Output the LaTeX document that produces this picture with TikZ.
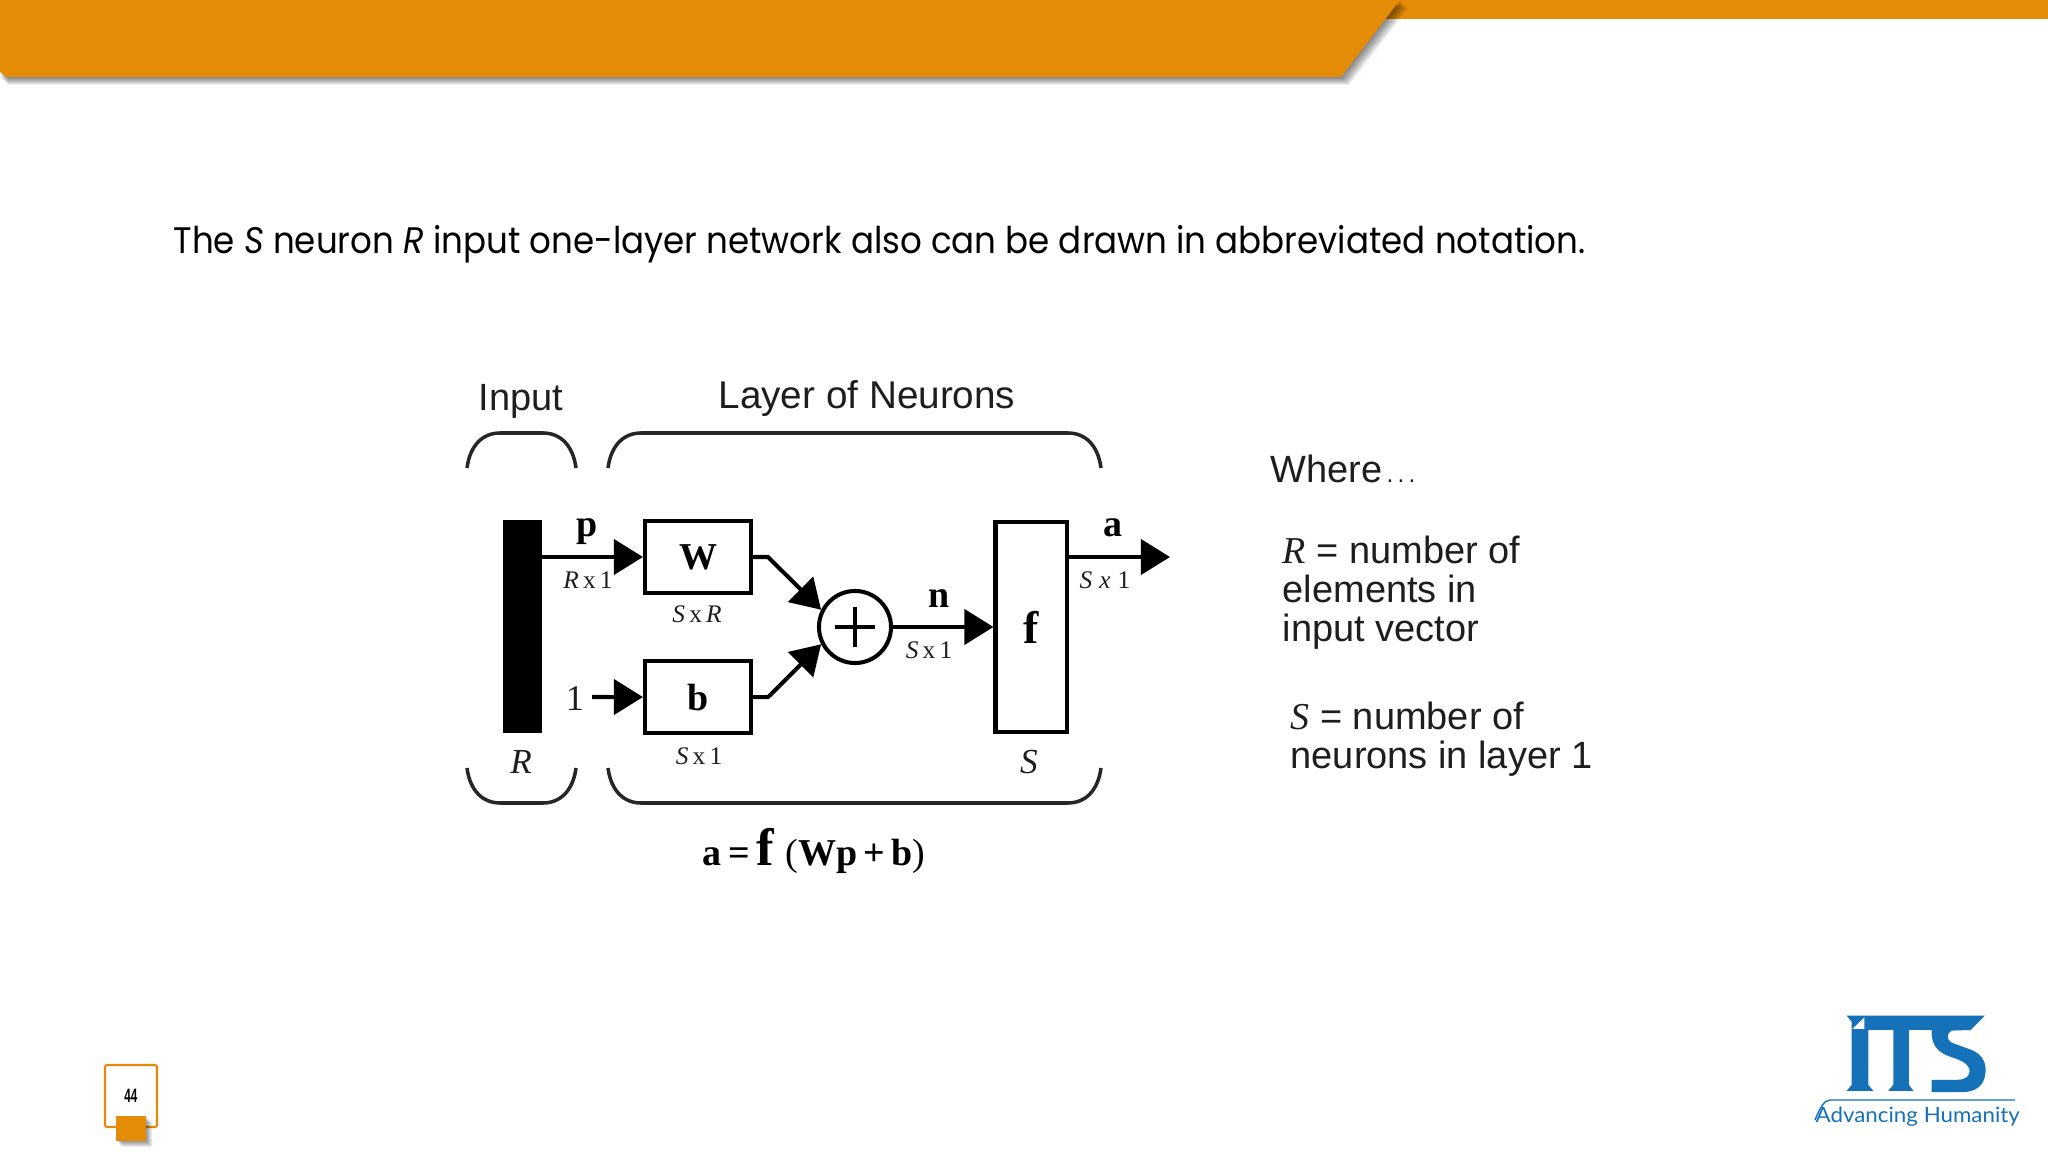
\documentclass[tikz,border=0pt]{standalone}
\usepackage{graphicx}
\usepackage{fontspec}
\setmainfont{Liberation Sans}
\newfontfamily\titlefont{Poppins}
\newfontfamily\serifface{Liberation Serif}
\newfontfamily\logofont{Lato}
\usepackage{tikz}
\usetikzlibrary{arrows.meta, calc, positioning}
\definecolor{itsorange}{RGB}{228,140,8}
\definecolor{itsblue}{RGB}{22,114,184}
\definecolor{inkgray}{RGB}{30,30,30}
\tikzset{%
	wire/.style={%
		draw=black,
		line width=1.15pt,
		-{Triangle[length=.29cm,width=.35cm]},
	},
	stub/.style={%
		draw=black,
		line width=1.15pt,
	},
	brace/.style={%
		draw=black!85,
		line width=1pt,
	},
	block/.style={%
		rectangle,
		draw=black,
		line width=1.15pt,
		inner sep=0pt,
		font=\serifface\bfseries\fontsize{10.8}{13}\selectfont,
		text centered,
	},
	caption/.style={%
		anchor=base,
		inner sep=0pt,
		text=inkgray,
		font=\fontsize{10.8}{13}\selectfont,
	},
	symbol/.style={%
		anchor=base,
		inner sep=0pt,
		font=\serifface\bfseries\fontsize{10.8}{13}\selectfont,
	},
	dims/.style={%
		anchor=base,
		inner sep=0pt,
		text=inkgray,
		font=\serifface\fontsize{7.2}{8}\selectfont,
	},
	layersize/.style={%
		anchor=base,
		inner sep=0pt,
		text=inkgray,
		font=\serifface\itshape\fontsize{10}{12}\selectfont,
	},
	legend/.style={%
		anchor=north west,
		inner sep=0pt,
		align=left,
		text=inkgray,
		font=\fontsize{10.8}{11.2}\selectfont,
	},
}

\begin{document}
\begin{tikzpicture}[x=.01cm, y=-.01cm]
	\useasboundingbox (0,0) rectangle (2048,1152);
	\fill[white] (0,0) rectangle (2048,1152);

	\fill[itsorange] (1380,0) rectangle (2048,19);
	\foreach \i in {1,...,8} {
		\fill[black, opacity=.07, xshift=\i*.01cm, yshift=-\i*.01cm] (0,0) -- (1400,0) -- (1341,77) -- (0,77) -- cycle;
	}
	\fill[white] (0,-10) rectangle (1440,0);
	\fill[itsorange] (0,0) -- (1400,0) -- (1341,77) -- (6,77) -- (0,72) -- cycle;

	\node [anchor=base west, inner sep=0pt] at (173,254) (title) {\resizebox{14.11cm}{\height}{\titlefont\fontsize{10.5}{13}\selectfont The \textit{S} neuron \textit{R} input one-layer network also can be drawn in abbreviated notation.}};

	\fill[black] (503,520) rectangle (542,733);
	\coordinate (bar_p) at (542,557);
	\coordinate (one_out) at (592,697);
	\coordinate (a_out) at (1170,557);

	\node [block, minimum width=1.06cm, minimum height=.72cm] at (698,557) (w_box) {W};
	\node [block, below=.64cm of w_box, minimum width=1.06cm, minimum height=.72cm] (b_box) {b};
	\node [circle, draw=black, line width=1.15pt, minimum size=.72cm, inner sep=0pt] at (855,627) (sum) {};
	\node [block, minimum width=.71cm, minimum height=2.1cm, font=\serifface\bfseries\fontsize{13}{14}\selectfont] at (1031,627) (f_box) {f};

	\draw[stub] ($(sum.center)+(-20,0)$) -- ($(sum.center)+(20,0)$);
	\draw[stub] ($(sum.center)+(0,-20)$) -- ($(sum.center)+(0,20)$);

	\draw[wire] (bar_p) -- (w_box);
	\draw[wire] (one_out) -- (b_box);
	\draw[wire] (w_box) -- ++(70,0) -- (sum.153);
	\draw[wire] (b_box) -- ++(70,0) -- (sum.207);
	\draw[wire] (sum) -- (f_box);
	\draw[wire] (f_box.east |- a_out) -- (a_out);

	\node [symbol] at (587,537) (p_lbl) {p};
	\node [symbol] at (1113,537) (a_lbl) {a};
	\node [symbol] at (939,607) (n_lbl) {n};
	\node [anchor=base, inner sep=0pt, text=inkgray, font=\serifface\fontsize{10.3}{13}\selectfont] at (575,710) (one_lbl) {1};

	\node [dims] at (588,588) (dim_p) {\textit{R}\,x\,1};
	\node [dims] at (697,623) (dim_w) {\textit{S}\,x\,\textit{R}};
	\node [dims] at (699,764) (dim_b) {\textit{S}\,x\,1};
	\node [dims] at (929,658) (dim_n) {\textit{S}\,x\,1};
	\node [dims] at (1105,588) (dim_a) {\textit{S}\;\textit{x}\;1};

	\node [layersize] at (521,773) (r_lbl) {R};
	\node [layersize] at (1029,773) (s_lbl) {S};

	\node [caption] at (521,411) (input_lbl) {Input};
	\node [caption, font=\fontsize{11}{13}\selectfont] at (867,409) (layer_lbl) {Layer of Neurons};

	\draw[brace] (467,468) .. controls (470,445) and (483,433) .. (500,433) -- (543,433) .. controls (560,433) and (573,445) .. (576,468);
	\draw[brace] (608,468) .. controls (611,445) and (624,433) .. (641,433) -- (1068,433) .. controls (1085,433) and (1098,445) .. (1101,468);
	\draw[brace] (467,768) .. controls (470,791) and (483,803) .. (500,803) -- (543,803) .. controls (560,803) and (573,791) .. (576,768);
	\draw[brace] (608,768) .. controls (611,791) and (624,803) .. (641,803) -- (1068,803) .. controls (1085,803) and (1098,791) .. (1101,768);

	\node [symbol, anchor=base west] at (702,865) (formula) {a\,=\,{\fontsize{15}{15}\selectfont f}\hspace{.12cm}{\mdseries(}Wp\,+\,b{\mdseries)}};

	\node [caption, anchor=base west] at (1270,483) (where_lbl) {Where{\fontsize{7}{7}\selectfont\,.\,.\,.}};
	\node [legend] at (1282,535) (r_note) {{\serifface\itshape R} = number of\\elements in\\input vector};
	\node [legend] at (1290,701) (s_note) {{\serifface\itshape S} = number of\\neurons in layer 1};

	\node [rectangle, draw=itsorange, line width=.6pt, rounded corners=.5pt, minimum width=.52cm, minimum height=.62cm, inner sep=0pt, font=\bfseries\fontsize{5.5}{6}\selectfont] at (131,1096) (page_box) {\resizebox{.13cm}{\height}{44}};
	\foreach \i in {1,...,6} {
		\fill[black, opacity=.08] (116,1116) ++(\i,\i) rectangle ++(30,25);
	}
	\fill[itsorange] (116,1116) rectangle (146,1141);

	\begin{scope}[shift={(1835,1005)}, x=.00333cm, y=-.00333cm]
		\fill[itsblue] (35,32) -- (450,32) -- (408,75) -- (350,77) .. controls (335,85) and (335,105) .. (350,113) -- (410,135) .. controls (445,150) and (455,175) .. (452,205) .. controls (448,245) and (420,262) .. (380,262) -- (290,262) -- (290,225) -- (365,225) .. controls (400,225) and (412,205) .. (400,185) .. controls (392,172) and (375,165) .. (345,155) .. controls (305,140) and (290,120) .. (290,75) -- (222,75) -- (222,240) -- (236,258) -- (160,258) -- (175,240) -- (175,75) -- (100,75) -- (100,240) -- (115,258) -- (35,258) -- (50,240) -- (50,50) -- cycle;
		\fill[white] (88,38) -- (88,72) -- (52,72) -- cycle;
	\end{scope}
	\draw[itsblue, line width=.4pt] (2015,1100) -- (1830,1100) .. controls (1824,1100) and (1820,1108) .. (1815,1120);
	\node [anchor=base west, inner sep=0pt, text=itsblue, font=\logofont\fontsize{6}{7}\selectfont] at (1815,1122) (logo_text) {\resizebox{2.04cm}{\height}{Advancing Humanity}};
\end{tikzpicture}
\end{document}
